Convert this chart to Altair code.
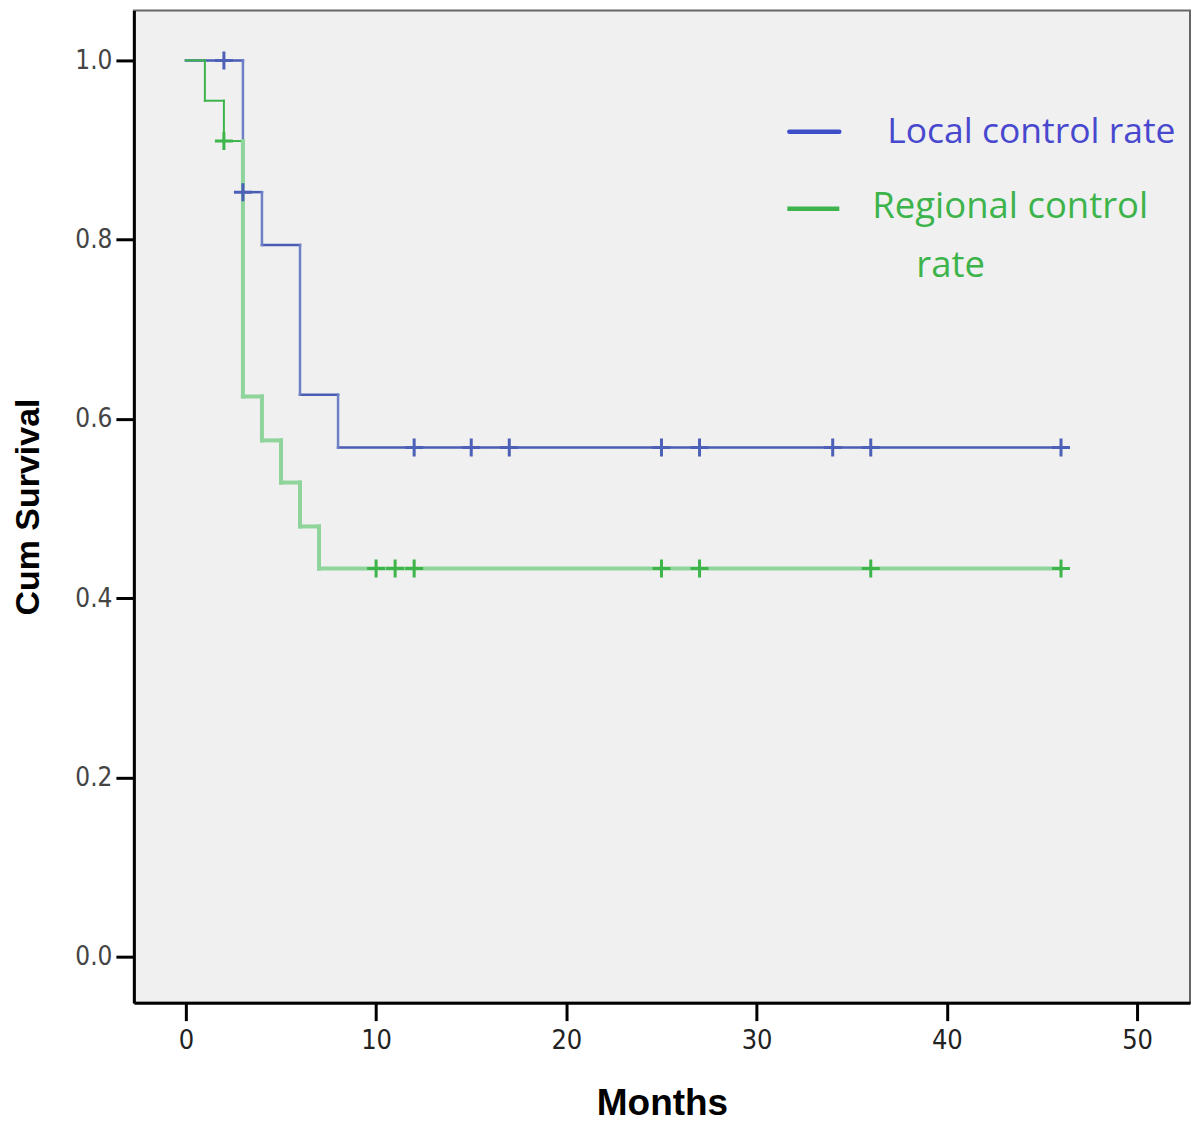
import altair as alt
import pandas as pd

# Kaplan-Meier step points (time in months, cumulative survival)
local_time = [0, 3, 4, 6, 8, 46]
local_surv = [1.0, 0.853, 0.794, 0.627, 0.568, 0.568]
regional_time = [0, 1, 2, 3, 4, 5, 6, 7, 46]
regional_surv = [1.0, 0.955, 0.910, 0.625, 0.576, 0.529, 0.480, 0.433, 0.433]

# censored observations
local_cens_time = [2, 3, 12, 15, 17, 25, 27, 34, 36, 46]
local_cens_surv = [1.0, 0.853, 0.568, 0.568, 0.568, 0.568, 0.568, 0.568, 0.568, 0.568]
regional_cens_time = [2, 10, 11, 12, 25, 27, 36, 46]
regional_cens_surv = [0.910, 0.433, 0.433, 0.433, 0.433, 0.433, 0.433, 0.433]

x_ticks = [0, 10, 20, 30, 40, 50]
y_ticks = [0.0, 0.2, 0.4, 0.6, 0.8, 1.0]

steps = pd.DataFrame(
    {"group": ["local"] * len(local_time) + ["regional"] * len(regional_time),
     "time": local_time + regional_time,
     "surv": local_surv + regional_surv}
)
cens = pd.DataFrame(
    {"group": ["local"] * len(local_cens_time) + ["regional"] * len(regional_cens_time),
     "time": local_cens_time + regional_cens_time,
     "surv": local_cens_surv + regional_cens_surv}
)

NARROW = "DejaVu Sans Condensed, Liberation Sans Narrow, sans-serif"

xs = alt.Scale(domain=[-2.731, 52.78], nice=False, zero=False)
ys = alt.Scale(domain=[-0.0513, 1.0557], nice=False, zero=False)

x_axis = alt.Axis(values=x_ticks, format="d", grid=False, tickSize=18, tickWidth=3,
                  tickColor="black", domainColor="black", domainWidth=3,
                  labelFont=NARROW, labelFontSize=27, labelColor="#222",
                  labelPadding=7, title="Months", titleFont="Liberation Sans",
                  titleFontWeight="bold", titleFontSize=37, titleColor="black",
                  titleY=112, titleBaseline="alphabetic")
y_axis = alt.Axis(values=y_ticks, format=".1f", grid=False, tickSize=18, tickWidth=3,
                  tickColor="black", domainColor="black", domainWidth=3,
                  labelFont=NARROW, labelFontSize=26, labelColor="#444",
                  labelPadding=4, title="Cum Survival", titleFont="Liberation Sans",
                  titleFontWeight="bold", titleFontSize=34, titleColor="black",
                  titleAngle=270, titleX=-95, titleBaseline="alphabetic")

seg_base = alt.Chart(steps).transform_window(
    next_time="lead(time)", next_surv="lead(surv)", groupby=["group"],
    sort=[alt.SortField("time", order="ascending")]
).transform_filter("datum.next_time != null")

def horiz(group):
    return seg_base.transform_filter(f"datum.group == '{group}'").transform_calculate(
        c=("'#4a5db3'" if group == "local" else "datum.time < 2.5 ? '#3cb44b' : '#8fd49b'"),
        w=("2.5" if group == "local" else "datum.time < 2.5 ? 2 : 4"),
    ).mark_rule(strokeCap="square").encode(
        x=alt.X("time:Q", scale=xs, axis=x_axis),
        x2="next_time:Q",
        y=alt.Y("surv:Q", scale=ys, axis=y_axis),
        color=alt.Color("c:N", scale=None),
        strokeWidth=alt.StrokeWidth("w:Q", scale=None),
    )

def vert(group):
    return seg_base.transform_filter(f"datum.group == '{group}'").transform_calculate(
        c=("'#6d80c6'" if group == "local" else "datum.next_time < 2.5 ? '#3cb44b' : '#8fd49b'"),
        w=("2.5" if group == "local" else "datum.next_time < 2.5 ? 2 : 4"),
    ).mark_rule(strokeCap="square").encode(
        x=alt.X("next_time:Q", scale=xs),
        y=alt.Y("surv:Q", scale=ys),
        y2="next_surv:Q",
        color=alt.Color("c:N", scale=None),
        strokeWidth=alt.StrokeWidth("w:Q", scale=None),
    )

PLUS = "M-1,0L1,0M0,-1L0,1"

cens_local = alt.Chart(cens).transform_filter("datum.group == 'local'").mark_point(
    shape=PLUS, filled=False, size=324, strokeWidth=3, color="#4d60b8", opacity=1
).encode(x=alt.X("time:Q", scale=xs), y=alt.Y("surv:Q", scale=ys))

cens_regional = alt.Chart(cens).transform_filter("datum.group == 'regional'").mark_point(
    shape=PLUS, filled=False, size=324, strokeWidth=3, color="#3db54a", opacity=1
).encode(x=alt.X("time:Q", scale=xs), y=alt.Y("surv:Q", scale=ys))

# legend (annotation)
leg_df = pd.DataFrame({"k": [0]})
leg_blue_line = alt.Chart(leg_df).mark_rule(color="#3d4fc8", strokeWidth=4.5, strokeCap="round").encode(
    x=alt.value(656), x2=alt.value(706), y=alt.value(121.5))
leg_green_line = alt.Chart(leg_df).mark_rule(color="#3cb44b", strokeWidth=4.5).encode(
    x=alt.value(654), x2=alt.value(706), y=alt.value(198.5))
leg_blue_text = alt.Chart(leg_df).mark_text(
    text="Local control rate", font="Open Sans", fontSize=35.5, color="#4848cf",
    align="left", baseline="alphabetic").encode(x=alt.value(754), y=alt.value(133))
leg_green_text1 = alt.Chart(leg_df).mark_text(
    text="Regional control", font="Open Sans", fontSize=36.5, color="#3cb44b",
    align="left", baseline="alphabetic").encode(x=alt.value(739), y=alt.value(208))
leg_green_text2 = alt.Chart(leg_df).mark_text(
    text="rate", font="Open Sans", fontSize=36.5, color="#3cb44b",
    align="left", baseline="alphabetic").encode(x=alt.value(783), y=alt.value(267))

chart = alt.layer(
    horiz("local"), vert("local"), horiz("regional"), vert("regional"),
    cens_local, cens_regional,
    leg_blue_line, leg_green_line, leg_blue_text, leg_green_text1, leg_green_text2,
).properties(
    width=1057, height=993,
    autosize=alt.AutoSizeParams(type="none"),
    padding={"left": 126, "top": 2, "right": 2, "bottom": 120},
    background="white",
).configure_view(fill="#f0f0f0", stroke="#666", strokeWidth=2)

chart.save("out.html", embed_options={"renderer": "svg", "actions": False})
